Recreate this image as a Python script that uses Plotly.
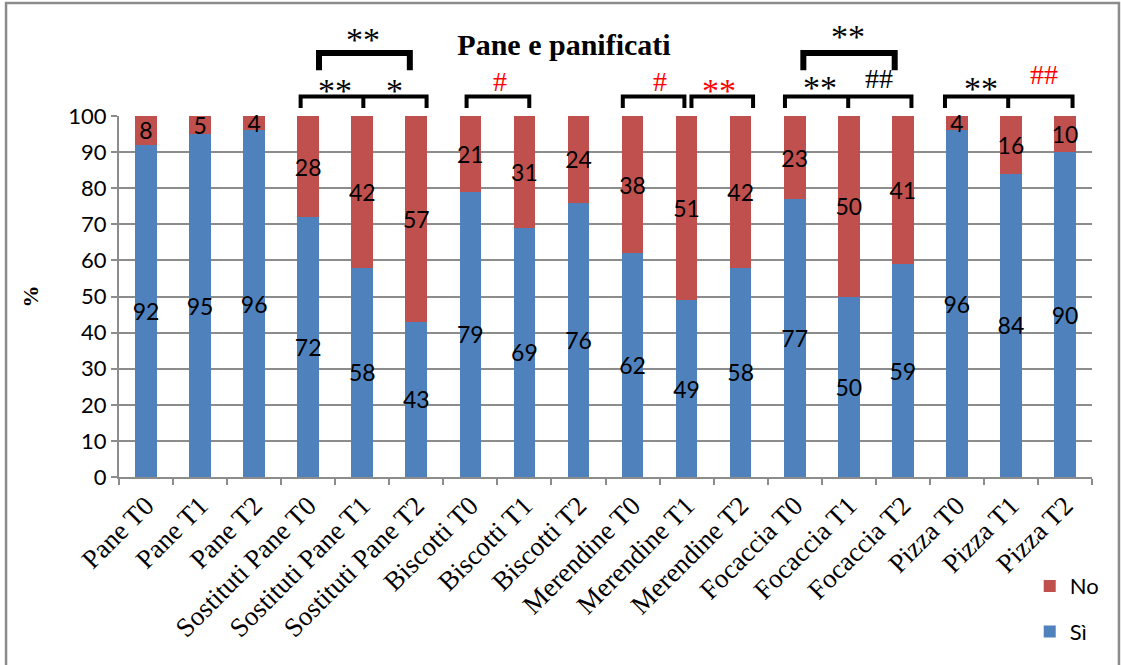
import plotly.graph_objects as go

categories = ["Pane T0", "Pane T1", "Pane T2",
              "Sostituti Pane T0", "Sostituti Pane T1", "Sostituti Pane T2",
              "Biscotti T0", "Biscotti T1", "Biscotti T2",
              "Merendine T0", "Merendine T1", "Merendine T2",
              "Focaccia T0", "Focaccia T1", "Focaccia T2",
              "Pizza T0", "Pizza T1", "Pizza T2"]
si_values = [92, 95, 96, 72, 58, 43, 79, 69, 76, 62, 49, 58, 77, 50, 59, 96, 84, 90]
no_values = [8, 5, 4, 28, 42, 57, 21, 31, 24, 38, 51, 42, 23, 50, 41, 4, 16, 10]

# significance brackets: (left, right, middle tick or None, level)
brackets = [
    (2.86, 5.19, 4.02, "low"),
    (3.20, 4.88, None, "high"),
    (5.93, 7.09, None, "low"),
    (8.82, 9.96, None, "low"),
    (10.09, 11.23, None, "low"),
    (11.82, 14.16, 12.99, "low"),
    (12.16, 13.85, None, "high"),
    (14.78, 17.14, 15.95, "low"),
]
# significance marks: (x position, y position in %, text, colour)
marks = [
    (3.49, 107.2, "**", "black"),
    (4.60, 107.2, "*", "black"),
    (4.01, 121.2, "**", "black"),
    (6.54, 109.6, "#", "red"),
    (9.50, 109.6, "#", "red"),
    (10.60, 107.2, "**", "red"),
    (12.47, 107.8, "**", "black"),
    (13.56, 110.5, "##", "black"),
    (12.99, 122.0, "**", "black"),
    (15.44, 107.5, "**", "black"),
    (16.61, 111.6, "##", "red"),
]

BLUE = "#4F81BD"
RED = "#C0504D"
GRAY = "#8C8C8C"
SANS = "Lato"
SERIF = "Liberation Serif"

fig = go.Figure()
for name, vals, col, rank in [("Sì", si_values, BLUE, 2), ("No", no_values, RED, 1)]:
    fig.add_trace(go.Bar(
        x=categories, y=vals, name=name, marker=dict(color=col, line=dict(width=0)),
        text=vals, texttemplate="%{text}", textposition="inside",
        insidetextanchor="middle", constraintext="none", textangle=0,
        insidetextfont=dict(family=SANS, size=23, color="black"),
        legendgroup=name, legendrank=rank, cliponaxis=False,
    ))

shapes = []
levels = {"low": (1.054, 1.022, 4), "high": (1.1745, 1.127, 6)}
for x0, x1, xm, lvl in brackets:
    yh, yb, w = levels[lvl]
    path = f"M{x0},{yb} L{x0},{yh} L{x1},{yh} L{x1},{yb}"
    if xm is not None:
        path += f" M{xm},{yh} L{xm},{yb}"
    shapes.append(dict(type="path", xref="x", yref="paper", path=path,
                       line=dict(color="black", width=w)))

# outer chart border
shapes.append(dict(type="rect", xref="paper", yref="paper",
                   x0=-0.1161, x1=1.0277, y0=-0.535, y1=1.313,
                   line=dict(color=GRAY, width=2.5)))

annotations = []
for x, y, t, c in marks:
    size = 34 if "*" in t else 28
    annotations.append(dict(x=x, y=y / 100, xref="x", yref="paper", text=t,
                            showarrow=False, xanchor="center", yanchor="middle",
                            font=dict(family=SERIF, size=size, color=c)))

fig.update_layout(
    width=1121, height=665,
    margin=dict(l=119, r=29, t=116, b=188),
    paper_bgcolor="white", plot_bgcolor="white",
    barmode="stack", bargap=0.6,
    title=dict(text="<b>Pane e panificati</b>", x=564 / 1121, y=1 - 44 / 665,
               xanchor="center", yanchor="middle",
               font=dict(family=SERIF, size=30, color="black")),
    xaxis=dict(type="category", tickson="boundaries", ticks="outside", ticklen=6,
               tickcolor=GRAY, tickwidth=2, showline=True, linecolor=GRAY, linewidth=2,
               showgrid=False, tickangle=-45,
               tickfont=dict(family=SERIF, size=27, color="black")),
    yaxis=dict(range=[0, 100], dtick=10, ticks="outside", ticklen=6, tickcolor=GRAY,
               tickwidth=2, showline=True, linecolor=GRAY, linewidth=2,
               showgrid=True, gridcolor=GRAY, gridwidth=2, zeroline=False,
               tickfont=dict(family=SANS, size=22, color="black"),
               title=dict(text="<b>%</b>", standoff=24,
                          font=dict(family=SERIF, size=22, color="black"))),
    legend=dict(x=0.936, y=-0.244, xanchor="left", yanchor="top",
                traceorder="grouped", tracegroupgap=14, itemwidth=30,
                font=dict(family=SANS, size=22, color="black")),
    shapes=shapes, annotations=annotations,
)

fig.write_html("out.html", config={"displayModeBar": False},
               post_script="document.body.style.margin='0';")
